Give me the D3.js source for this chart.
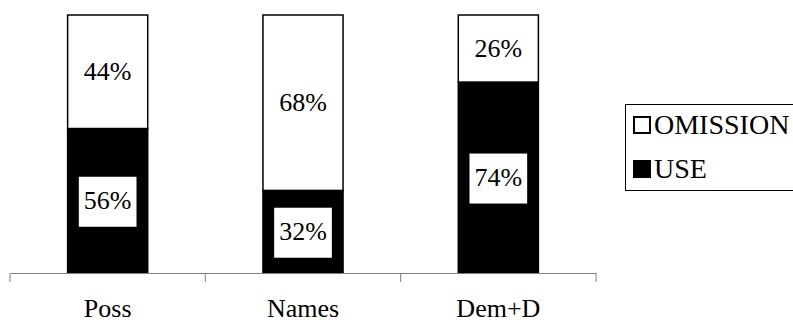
<!DOCTYPE html>
<html>
<head>
<meta charset="utf-8">
<script src="https://cdn.jsdelivr.net/npm/d3@7"></script>
<style>
  html, body { margin: 0; padding: 0; background: #fff; }
  svg { display: block; }
</style>
</head>
<body>
<svg id="chart" width="793" height="324"></svg>
<script>
// Share of determiner use vs. omission per context
const categories = ["Poss", "Names", "Dem+D"];
const useValues = [56, 32, 74];
const omissionValues = [44, 68, 26];
const seriesNames = ["OMISSION", "USE"];

const SERIF = "'Liberation Serif', Tinos, 'Times New Roman', Times, serif";
const svg = d3.select("#chart").attr("font-family", SERIF);

const rows = categories.map((c, i) => ({ cat: c, USE: useValues[i], OMISSION: omissionValues[i] }));

const x = d3.scaleBand().domain(categories).range([10, 596])
  .paddingInner(0.59).paddingOuter(0.295);
const y = d3.scaleLinear().domain([0, 100]).range([273, 15]);

const stack = d3.stack().keys(["USE", "OMISSION"]);
const layers = stack(rows);
const fills = { USE: "#000", OMISSION: "#fff" };

// stacked bars
const g = svg.append("g");
layers.forEach(layer => {
  g.selectAll(null).data(layer).enter().append("rect")
    .attr("x", d => x(d.data.cat))
    .attr("y", d => y(d[1]))
    .attr("width", x.bandwidth())
    .attr("height", d => y(d[0]) - y(d[1]))
    .attr("fill", fills[layer.key])
    .attr("stroke", "#000")
    .attr("stroke-width", 1.5);
});

// value labels on white boxes
const fs = 26;
layers.forEach(layer => {
  layer.forEach(d => {
    const cx = x(d.data.cat) + x.bandwidth() / 2;
    const cy = (y(d[0]) + y(d[1])) / 2;
    const lg = svg.append("g");
    const t = lg.append("text")
      .attr("x", cx).attr("y", cy + 8)
      .attr("text-anchor", "middle")
      .attr("font-family", SERIF)
      .attr("font-size", fs)
      .attr("fill", "#000")
      .text(d.data[layer.key] + "%");
    const w = t.node().getComputedTextLength();
    lg.insert("rect", "text")
      .attr("x", cx - w / 2 - 5).attr("y", cy - 24)
      .attr("width", w + 10).attr("height", 50)
      .attr("fill", "#fff");
  });
});

// category axis
const axisG = svg.append("g").attr("transform", "translate(0,273)")
  .call(d3.axisBottom(x).tickSize(0).tickPadding(0).tickSizeOuter(0));
axisG.attr("font-family", SERIF);
axisG.select(".domain").attr("stroke", "#808080").attr("stroke-width", 1);
axisG.selectAll(".tick text")
  .attr("font-family", SERIF)
  .attr("font-size", 26)
  .attr("fill", "#000")
  .attr("dy", null)
  .attr("y", 44);

// tick marks between categories
const bounds = d3.range(categories.length + 1).map(i => x.range()[0] + i * x.step());
svg.append("g").selectAll("line").data(bounds).enter().append("line")
  .attr("x1", d => d).attr("x2", d => d)
  .attr("y1", 273).attr("y2", 282)
  .attr("stroke", "#808080").attr("stroke-width", 1);

// legend
const leg = svg.append("g").attr("transform", "translate(625,104)");
leg.append("rect").attr("x", 0.5).attr("y", 0.5).attr("width", 180).attr("height", 86)
  .attr("fill", "#fff").attr("stroke", "#000").attr("stroke-width", 1);
seriesNames.forEach((s, i) => {
  const yy = 13 + i * 44;
  leg.append("rect").attr("x", 9).attr("y", yy).attr("width", 16).attr("height", 16)
    .attr("fill", fills[s]).attr("stroke", "#000").attr("stroke-width", 2);
  leg.append("text").attr("x", 29).attr("y", yy + 17)
    .attr("font-family", SERIF)
    .attr("font-size", 28).attr("fill", "#000").text(s);
});
</script>
</body>
</html>
